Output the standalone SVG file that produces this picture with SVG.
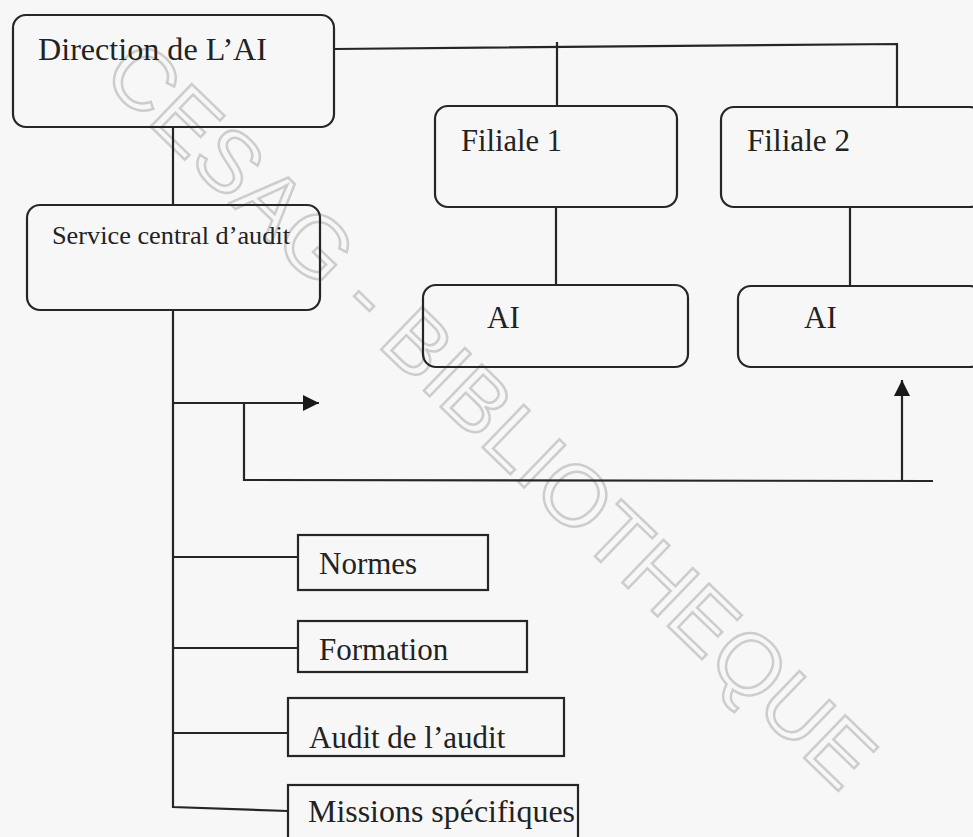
<svg xmlns="http://www.w3.org/2000/svg" width="973" height="837" viewBox="0 0 973 837">
<defs>
<style>
.bx{fill:none;stroke:#262626;stroke-width:2.2}
.ln{fill:none;stroke:#262626;stroke-width:2.2}
.t{font-family:"Liberation Serif","Times New Roman",serif;font-size:31px;fill:#222}
.wm{font-family:"Liberation Sans",Arial,sans-serif;font-size:86px;fill:none;stroke:#cdcdcd;stroke-width:2.5}
</style>
<marker id="ah2" viewBox="0 0 10 10" refX="10" refY="5" markerWidth="16" markerHeight="16" markerUnits="userSpaceOnUse" orient="auto">
<path d="M0,0 L10,5 L0,10 z" fill="#1a1a1a"/>
</marker>
</defs>
<rect width="973" height="837" fill="#f7f7f7"/>
<text class="wm" transform="translate(100,78) rotate(44)" textLength="1030" lengthAdjust="spacingAndGlyphs">CESAG - BIBLIOTHEQUE</text>
<g id="connectors">
<path class="ln" d="M334,49 L897,44 L897,107"/>
<path class="ln" d="M557,42 L557,106"/>
<path class="ln" d="M556,207 L556,285"/>
<path class="ln" d="M850,207 L850,286"/>
<path class="ln" d="M173,127 L173,205"/>
<path class="ln" d="M173,310 L173,807 L288,811"/>
<path class="ln" d="M173,403 L319,403" marker-end="url(#ah2)"/>
<path class="ln" d="M244,403 L244,480 L933,481"/>
<path class="ln" d="M902,481 L902,380" marker-end="url(#ah2)"/>
<path class="ln" d="M173,557 L298,557"/>
<path class="ln" d="M173,648 L298,648"/>
<path class="ln" d="M173,733 L288,733"/>
</g>
<g id="direction">
<rect class="bx" x="13" y="15" width="321" height="112" rx="13"/>
<text class="t" x="38" y="60" textLength="229" lengthAdjust="spacingAndGlyphs">Direction de L’AI</text>
</g>
<g id="filiale1">
<rect class="bx" x="435" y="106" width="242" height="101" rx="13"/>
<text class="t" x="461" y="151" textLength="101" lengthAdjust="spacingAndGlyphs">Filiale 1</text>
</g>
<g id="filiale2">
<rect class="bx" x="721" y="107" width="262" height="100" rx="13"/>
<text class="t" x="747" y="151" textLength="103" lengthAdjust="spacingAndGlyphs">Filiale 2</text>
</g>
<g id="service">
<rect class="bx" x="27" y="205" width="293" height="105" rx="13"/>
<text class="t" x="52" y="244" style="font-size:26px" textLength="238" lengthAdjust="spacingAndGlyphs">Service central d’audit</text>
</g>
<g id="ai1">
<rect class="bx" x="423" y="285" width="265" height="82" rx="13"/>
<text class="t" x="487" y="328">AI</text>
</g>
<g id="ai2">
<rect class="bx" x="738" y="286" width="245" height="81" rx="13"/>
<text class="t" x="804" y="328">AI</text>
</g>
<g id="normes">
<rect class="bx" x="298" y="535" width="190" height="55"/>
<text class="t" x="319" y="574">Normes</text>
</g>
<g id="formation">
<rect class="bx" x="298" y="621" width="229" height="51"/>
<text class="t" x="319" y="660">Formation</text>
</g>
<g id="audit">
<rect class="bx" x="288" y="698" width="276" height="58"/>
<text class="t" x="309" y="748">Audit de l’audit</text>
</g>
<g id="missions">
<rect class="bx" x="288" y="785" width="290" height="60"/>
<text class="t" x="308" y="822" textLength="267" lengthAdjust="spacingAndGlyphs">Missions spécifiques</text>
</g>
</svg>
